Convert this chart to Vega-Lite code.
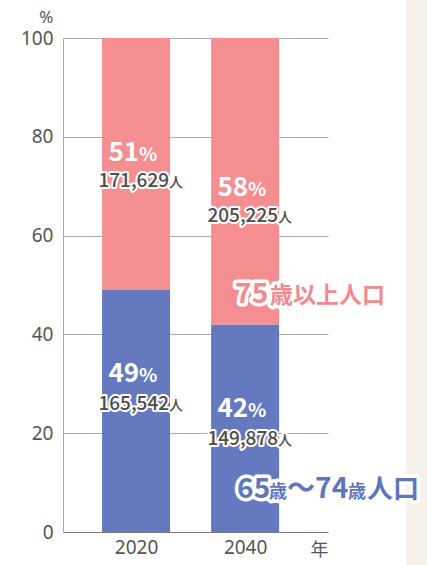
{
  "$schema": "https://vega.github.io/schema/vega-lite/v6.json",
  "width": 265,
  "height": 494,
  "autosize": {"type": "none"},
  "padding": {"left": 63, "top": 38, "right": 99, "bottom": 33},
  "background": "white",
  "config": {
    "view": {"stroke": null},
    "font": "Noto Sans CJK JP",
    "axisY": {"titleAngle": 0, "titleAlign": "right", "titleBaseline": "alphabetic", "titleX": -10, "titleY": -16, "titleFontSize": 17, "titleFontWeight": "normal", "titleColor": "#555", "titleFont": "Noto Sans",
      "labelFontSize": 19, "labelColor": "#555", "labelFont": "Noto Sans", "labelPadding": 10, "ticks": false, "domainColor": "#aaa", "grid": true, "gridColor": "#aaa", "gridOpacity": 1},
    "axisX": {"titleX": 256, "titleY": 9, "titleBaseline": "top", "titleAlign": "center", "titleFontSize": 18, "titleFontWeight": "normal", "titleColor": "#555", "titleFont": "Noto Sans CJK JP",
      "labelAngle": 0, "labelFontSize": 19, "labelColor": "#555", "labelFont": "Noto Sans", "labelPadding": 6, "labelBaseline": "top", "labelFlush": false, "ticks": false, "domainColor": "#777", "grid": false}
  },
  "data": {"values": [
    {"year": 2020, "group": "65歳〜74歳人口", "value": 49, "count": "165,542"},
    {"year": 2020, "group": "75歳以上人口", "value": 51, "count": "171,629"},
    {"year": 2040, "group": "65歳〜74歳人口", "value": 42, "count": "149,878"},
    {"year": 2040, "group": "75歳以上人口", "value": 58, "count": "205,225"}
  ]},
  "transform": [{"stack": "value", "groupby": ["year"], "sort": [{"field": "group", "order": "ascending"}], "as": ["v0", "v1"]}],
  "encoding": {
    "x": {"field": "year", "type": "quantitative", "title": "年",
      "scale": {"domain": [2006.6, 2055.2], "nice": false, "zero": false, "padding": 0},
      "axis": {"values": [2020, 2040], "format": "d"}}
  },
  "layer": [
    {
      "transform": [{"filter": "datum.year == 2020 && datum.value == 49"}],
      "mark": {"type": "rect", "color": "#f6f1eb"},
      "encoding": {
        "x": {"datum": 2069.5, "type": "quantitative", "title": "年"},
        "x2": {"datum": 2085},
        "y": {"datum": -10, "type": "quantitative", "title": "%"},
        "y2": {"datum": 115}
      }
    },
    {
      "mark": {"type": "bar", "width": 68},
      "encoding": {
        "y": {"field": "v0", "type": "quantitative", "title": "%", "scale": {"domain": [0, 100], "nice": false}, "axis": {"values": [0, 20, 40, 60, 80, 100]}},
        "y2": {"field": "v1"},
        "color": {"field": "group", "type": "nominal", "scale": {"domain": ["65歳〜74歳人口", "75歳以上人口"], "range": ["#6479bf", "#f48e91"]}, "legend": null}
      }
    },
    {
      "transform": [{"filter": "datum.group == '75歳以上人口'"}],
      "mark": {"type": "text", "align": "right", "baseline": "alphabetic", "dx": 3, "dy": -129, "fontSize": 26, "fontWeight": "bold", "color": "white"},
      "encoding": {"y": {"field": "v0", "type": "quantitative", "title": "%"}, "text": {"field": "value", "type": "quantitative"}}
    },
    {
      "transform": [{"filter": "datum.group == '75歳以上人口'"}],
      "mark": {"type": "text", "align": "left", "baseline": "alphabetic", "dx": 3, "dy": -129, "fontSize": 19, "fontWeight": "bold", "color": "white", "text": "%"},
      "encoding": {"y": {"field": "v0", "type": "quantitative", "title": "%"}}
    },
    {
      "transform": [{"filter": "datum.group == '65歳〜74歳人口'"}],
      "mark": {"type": "text", "align": "right", "baseline": "alphabetic", "dx": 3, "dy": 92, "fontSize": 26, "fontWeight": "bold", "color": "white"},
      "encoding": {"y": {"field": "v1", "type": "quantitative", "title": "%"}, "text": {"field": "value", "type": "quantitative"}}
    },
    {
      "transform": [{"filter": "datum.group == '65歳〜74歳人口'"}],
      "mark": {"type": "text", "align": "left", "baseline": "alphabetic", "dx": 3, "dy": 92, "fontSize": 19, "fontWeight": "bold", "color": "white", "text": "%"},
      "encoding": {"y": {"field": "v1", "type": "quantitative", "title": "%"}}
    },
    {
      "transform": [{"filter": "datum.group == '75歳以上人口'"}],
      "mark": {"type": "text", "align": "right", "baseline": "alphabetic", "dx": 33, "dy": -103, "fontSize": 19, "fontWeight": 500, "fill": "white", "stroke": "white", "strokeWidth": 4, "strokeJoin": "round"},
      "encoding": {"y": {"field": "v0", "type": "quantitative", "title": "%"}, "text": {"field": "count"}}
    },
    {
      "transform": [{"filter": "datum.group == '75歳以上人口'"}],
      "mark": {"type": "text", "align": "left", "baseline": "alphabetic", "dx": 33, "dy": -103, "fontSize": 14, "fontWeight": 500, "fill": "white", "stroke": "white", "strokeWidth": 4, "strokeJoin": "round", "text": "人"},
      "encoding": {"y": {"field": "v0", "type": "quantitative", "title": "%"}}
    },
    {
      "transform": [{"filter": "datum.group == '75歳以上人口'"}],
      "mark": {"type": "text", "align": "right", "baseline": "alphabetic", "dx": 33, "dy": -103, "fontSize": 19, "fontWeight": 500, "color": "#4d4d4d"},
      "encoding": {"y": {"field": "v0", "type": "quantitative", "title": "%"}, "text": {"field": "count"}}
    },
    {
      "transform": [{"filter": "datum.group == '75歳以上人口'"}],
      "mark": {"type": "text", "align": "left", "baseline": "alphabetic", "dx": 33, "dy": -103, "fontSize": 14, "fontWeight": 500, "color": "#4d4d4d", "text": "人"},
      "encoding": {"y": {"field": "v0", "type": "quantitative", "title": "%"}}
    },
    {
      "transform": [{"filter": "datum.group == '65歳〜74歳人口'"}],
      "mark": {"type": "text", "align": "right", "baseline": "alphabetic", "dx": 33, "dy": 120, "fontSize": 19, "fontWeight": 500, "fill": "white", "stroke": "white", "strokeWidth": 4, "strokeJoin": "round"},
      "encoding": {"y": {"field": "v1", "type": "quantitative", "title": "%"}, "text": {"field": "count"}}
    },
    {
      "transform": [{"filter": "datum.group == '65歳〜74歳人口'"}],
      "mark": {"type": "text", "align": "left", "baseline": "alphabetic", "dx": 33, "dy": 120, "fontSize": 14, "fontWeight": 500, "fill": "white", "stroke": "white", "strokeWidth": 4, "strokeJoin": "round", "text": "人"},
      "encoding": {"y": {"field": "v1", "type": "quantitative", "title": "%"}}
    },
    {
      "transform": [{"filter": "datum.group == '65歳〜74歳人口'"}],
      "mark": {"type": "text", "align": "right", "baseline": "alphabetic", "dx": 33, "dy": 120, "fontSize": 19, "fontWeight": 500, "color": "#4d4d4d"},
      "encoding": {"y": {"field": "v1", "type": "quantitative", "title": "%"}, "text": {"field": "count"}}
    },
    {
      "transform": [{"filter": "datum.group == '65歳〜74歳人口'"}],
      "mark": {"type": "text", "align": "left", "baseline": "alphabetic", "dx": 33, "dy": 120, "fontSize": 14, "fontWeight": 500, "color": "#4d4d4d", "text": "人"},
      "encoding": {"y": {"field": "v1", "type": "quantitative", "title": "%"}}
    },
    {
      "transform": [{"filter": "datum.year == 2040 && datum.group == '75歳以上人口'"}],
      "mark": {"type": "text", "align": "left", "baseline": "alphabetic", "dx": -10, "dy": -22, "fontSize": 28, "fontWeight": "bold", "fill": "white", "stroke": "white", "strokeWidth": 7, "strokeJoin": "round", "text": "75"},
      "encoding": {"y": {"field": "v0", "type": "quantitative", "title": "%"}}
    },
    {
      "transform": [{"filter": "datum.year == 2040 && datum.group == '75歳以上人口'"}],
      "mark": {"type": "text", "align": "left", "baseline": "alphabetic", "dx": 25, "dy": -22, "fontSize": 23, "fontWeight": "bold", "fill": "white", "stroke": "white", "strokeWidth": 7, "strokeJoin": "round", "text": "歳以上人口"},
      "encoding": {"y": {"field": "v0", "type": "quantitative", "title": "%"}}
    },
    {
      "transform": [{"filter": "datum.year == 2040 && datum.group == '75歳以上人口'"}],
      "mark": {"type": "text", "align": "left", "baseline": "alphabetic", "dx": -10, "dy": -22, "fontSize": 28, "fontWeight": "bold", "color": "#f28a8e", "text": "75"},
      "encoding": {"y": {"field": "v0", "type": "quantitative", "title": "%"}}
    },
    {
      "transform": [{"filter": "datum.year == 2040 && datum.group == '75歳以上人口'"}],
      "mark": {"type": "text", "align": "left", "baseline": "alphabetic", "dx": 25, "dy": -22, "fontSize": 23, "fontWeight": "bold", "color": "#f28a8e", "text": "歳以上人口"},
      "encoding": {"y": {"field": "v0", "type": "quantitative", "title": "%"}}
    },
    {
      "transform": [{"filter": "datum.year == 2040 && datum.group == '65歳〜74歳人口'"}],
      "mark": {"type": "text", "align": "left", "baseline": "alphabetic", "dx": -8, "dy": -34, "fontSize": 28, "fontWeight": "bold", "fill": "white", "stroke": "white", "strokeWidth": 7, "strokeJoin": "round", "text": "65"},
      "encoding": {"y": {"field": "v0", "type": "quantitative", "title": "%"}}
    },
    {
      "transform": [{"filter": "datum.year == 2040 && datum.group == '65歳〜74歳人口'"}],
      "mark": {"type": "text", "align": "left", "baseline": "alphabetic", "dx": 24, "dy": -34, "fontSize": 18, "fontWeight": "bold", "fill": "white", "stroke": "white", "strokeWidth": 7, "strokeJoin": "round", "text": "歳"},
      "encoding": {"y": {"field": "v0", "type": "quantitative", "title": "%"}}
    },
    {
      "transform": [{"filter": "datum.year == 2040 && datum.group == '65歳〜74歳人口'"}],
      "mark": {"type": "text", "align": "left", "baseline": "alphabetic", "dx": 42, "dy": -34, "fontSize": 28, "fontWeight": "bold", "fill": "white", "stroke": "white", "strokeWidth": 7, "strokeJoin": "round", "text": "〜74"},
      "encoding": {"y": {"field": "v0", "type": "quantitative", "title": "%"}}
    },
    {
      "transform": [{"filter": "datum.year == 2040 && datum.group == '65歳〜74歳人口'"}],
      "mark": {"type": "text", "align": "left", "baseline": "alphabetic", "dx": 103, "dy": -34, "fontSize": 18, "fontWeight": "bold", "fill": "white", "stroke": "white", "strokeWidth": 7, "strokeJoin": "round", "text": "歳"},
      "encoding": {"y": {"field": "v0", "type": "quantitative", "title": "%"}}
    },
    {
      "transform": [{"filter": "datum.year == 2040 && datum.group == '65歳〜74歳人口'"}],
      "mark": {"type": "text", "align": "left", "baseline": "alphabetic", "dx": 122, "dy": -34, "fontSize": 26, "fontWeight": "bold", "fill": "white", "stroke": "white", "strokeWidth": 7, "strokeJoin": "round", "text": "人口"},
      "encoding": {"y": {"field": "v0", "type": "quantitative", "title": "%"}}
    },
    {
      "transform": [{"filter": "datum.year == 2040 && datum.group == '65歳〜74歳人口'"}],
      "mark": {"type": "text", "align": "left", "baseline": "alphabetic", "dx": -8, "dy": -34, "fontSize": 28, "fontWeight": "bold", "color": "#5d76be", "text": "65"},
      "encoding": {"y": {"field": "v0", "type": "quantitative", "title": "%"}}
    },
    {
      "transform": [{"filter": "datum.year == 2040 && datum.group == '65歳〜74歳人口'"}],
      "mark": {"type": "text", "align": "left", "baseline": "alphabetic", "dx": 24, "dy": -34, "fontSize": 18, "fontWeight": "bold", "color": "#5d76be", "text": "歳"},
      "encoding": {"y": {"field": "v0", "type": "quantitative", "title": "%"}}
    },
    {
      "transform": [{"filter": "datum.year == 2040 && datum.group == '65歳〜74歳人口'"}],
      "mark": {"type": "text", "align": "left", "baseline": "alphabetic", "dx": 42, "dy": -34, "fontSize": 28, "fontWeight": "bold", "color": "#5d76be", "text": "〜74"},
      "encoding": {"y": {"field": "v0", "type": "quantitative", "title": "%"}}
    },
    {
      "transform": [{"filter": "datum.year == 2040 && datum.group == '65歳〜74歳人口'"}],
      "mark": {"type": "text", "align": "left", "baseline": "alphabetic", "dx": 103, "dy": -34, "fontSize": 18, "fontWeight": "bold", "color": "#5d76be", "text": "歳"},
      "encoding": {"y": {"field": "v0", "type": "quantitative", "title": "%"}}
    },
    {
      "transform": [{"filter": "datum.year == 2040 && datum.group == '65歳〜74歳人口'"}],
      "mark": {"type": "text", "align": "left", "baseline": "alphabetic", "dx": 122, "dy": -34, "fontSize": 26, "fontWeight": "bold", "color": "#5d76be", "text": "人口"},
      "encoding": {"y": {"field": "v0", "type": "quantitative", "title": "%"}}
    }
  ]
}
